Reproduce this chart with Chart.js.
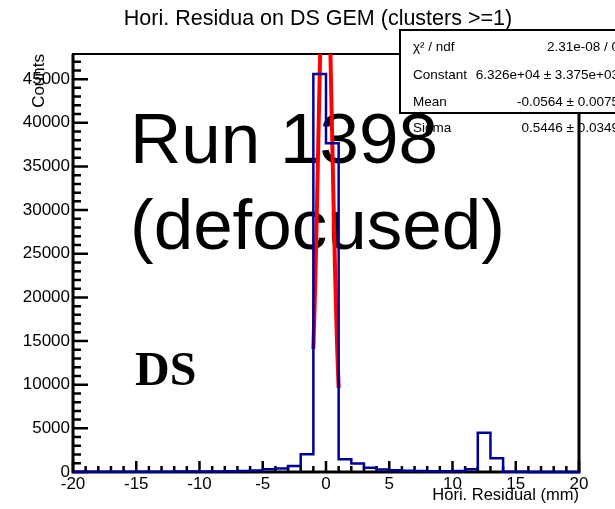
<!DOCTYPE html>
<html>
<head>
<meta charset="utf-8">
<script src="https://cdn.jsdelivr.net/npm/chart.js@4/dist/chart.umd.min.js"></script>
<style>
  html, body { margin: 0; padding: 0; background: #fff; }
  canvas { display: block; }
</style>
</head>
<body>
<canvas id="c" width="615" height="509"></canvas>
<script>
// histogram: 40 bins of 1 mm from -20 to 20
const X_MIN = -20, X_MAX = 20, BIN_WIDTH = 1;
const counts = [
  20, 20, 25, 25, 30, 30, 35, 40, 45, 50,
  60, 70, 90, 120, 170, 310, 390, 690, 2030, 45600,
  37650, 1450, 960, 500, 300, 200, 150, 120, 100, 100,
  110, 310, 4500, 1570, 40, 20, 10, 10, 10, 10
];

// gaussian fit curve
const fitX = [-1.0, -0.9, -0.8, -0.7, -0.6, -0.5, -0.4, -0.3, -0.2, -0.1, 0.0,
              0.1, 0.2, 0.3, 0.4, 0.5, 0.6, 0.7, 0.8, 0.9, 1.0];
const fitY = [14090, 19060, 24900, 31470, 38440, 45400, 51850, 57240, 61100, 63060, 62920,
              60700, 56630, 51070, 44520, 37540, 30600, 24120, 18370, 13530, 9640];

const xTicks = [-20, -15, -10, -5, 0, 5, 10, 15, 20];
const yTicks = [0, 5000, 10000, 15000, 20000, 25000, 30000, 35000, 40000, 45000];
const Y_MAX = 47880;

const titleText = 'Hori. Residua on DS GEM (clusters >=1)';
const statLabels = ['\u03c7\u00b2 / ndf', 'Constant', 'Mean', 'Sigma'];
const statValues = ['2.31e-08 / 0', '6.326e+04 \u00b1 3.375e+03', '-0.0564 \u00b1 0.0075', '0.5446 \u00b1 0.0349'];
const runLines = ['Run 1398', '(defocused)'];
const detLabel = 'DS';

const SANS = '"Liberation Sans", Arial, Helvetica, sans-serif';

const histPoints = counts.map((v, i) => ({ x: X_MIN + i * BIN_WIDTH, y: v }));
histPoints.push({ x: X_MAX, y: counts[counts.length - 1] });
const fitPoints = fitX.map((x, i) => ({ x: x, y: fitY[i] }));

// frame, inner ticks, stats box and text labels, ROOT style
const rootDecor = {
  id: 'rootDecor',
  beforeDatasetsDraw(chart) {
    const ctx = chart.ctx;
    const a = chart.chartArea;
    const xs = chart.scales.x, ys = chart.scales.y;
    ctx.save();

    // title
    ctx.fillStyle = '#000';
    ctx.font = '21.5px ' + SANS;
    ctx.textAlign = 'center';
    ctx.textBaseline = 'alphabetic';
    ctx.fillText(titleText, 318, 25);

    // frame
    ctx.strokeStyle = '#000';
    ctx.lineWidth = 2;
    ctx.strokeRect(a.left, a.top, a.right - a.left, a.bottom - a.top);
    ctx.lineWidth = 3;
    ctx.beginPath();
    ctx.moveTo(a.left, a.top);
    ctx.lineTo(a.left, a.bottom);
    ctx.lineTo(a.right, a.bottom);
    ctx.lineTo(a.right, a.top);
    ctx.stroke();

    // ticks inside the frame
    ctx.lineWidth = 2.5;
    ctx.beginPath();
    for (let v = X_MIN; v <= X_MAX; v += 1) {
      const px = xs.getPixelForValue(v);
      const len = (v % 5 === 0) ? 11 : 6;
      ctx.moveTo(px, a.bottom);
      ctx.lineTo(px, a.bottom - len);
    }
    for (let v = 0; v <= Y_MAX; v += 1000) {
      const py = ys.getPixelForValue(v);
      const len = (v % 5000 === 0) ? 15 : 8;
      ctx.moveTo(a.left, py);
      ctx.lineTo(a.left + len, py);
    }
    ctx.stroke();

    // stats box (the last row spills below it, as in the original)
    ctx.fillStyle = '#fff';
    ctx.fillRect(400, 30, 240, 83);
    ctx.strokeStyle = '#000';
    ctx.lineWidth = 2;
    ctx.strokeRect(400, 30, 240, 83);
    ctx.fillStyle = '#000';
    ctx.font = '13.5px ' + SANS;
    ctx.textBaseline = 'middle';
    const rowY = [47, 75, 102, 128];
    statLabels.forEach((t, i) => {
      ctx.textAlign = 'left';
      ctx.fillText(t, 413, rowY[i]);
      ctx.textAlign = 'right';
      ctx.fillText(statValues[i], 619, rowY[i]);
    });

    // run annotation
    ctx.textAlign = 'left';
    ctx.textBaseline = 'alphabetic';
    ctx.font = '71px ' + SANS;
    ctx.fillText(runLines[0], 130, 163);
    ctx.fillText(runLines[1], 130, 249);
    ctx.font = 'bold 48px "Liberation Serif", "DejaVu Serif", serif';
    ctx.fillText(detLabel, 135, 385);

    ctx.restore();
  }
};

new Chart(document.getElementById('c'), {
  type: 'line',
  data: {
    datasets: [
      {
        label: 'residual',
        data: histPoints,
        stepped: 'before',
        borderColor: '#000099',
        borderWidth: 2.5,
        pointRadius: 0,
        fill: false,
        clip: 2
      },
      {
        label: 'fit',
        data: fitPoints,
        borderColor: '#ff0000',
        borderWidth: 4,
        pointRadius: 0,
        tension: 0.3,
        fill: false,
        clip: 0
      }
    ]
  },
  options: {
    responsive: false,
    animation: false,
    layout: { padding: { top: 54, right: 36, left: 0, bottom: 0 } },
    plugins: { legend: { display: false }, tooltip: { enabled: false }, title: { display: false } },
    scales: {
      x: {
        type: 'linear',
        min: X_MIN,
        max: X_MAX,
        border: { display: false },
        grid: { display: false, drawTicks: false },
        afterBuildTicks: s => { s.ticks = xTicks.map(v => ({ value: v })); },
        afterFit: s => { s.height = 37; },
        ticks: {
          autoSkip: false,
          maxRotation: 0,
          padding: 2,
          color: '#000',
          font: { family: SANS, size: 17 },
          callback: v => String(v)
        },
        title: {
          display: true,
          text: 'Hori. Residual (mm)',
          align: 'end',
          color: '#000',
          font: { family: SANS, size: 16.5 },
          padding: { top: 0, bottom: 3.5 }
        }
      },
      y: {
        type: 'linear',
        min: 0,
        max: Y_MAX,
        border: { display: false },
        grid: { display: false, drawTicks: false },
        afterBuildTicks: s => { s.ticks = yTicks.map(v => ({ value: v })); },
        afterFit: s => { s.width = 73; },
        ticks: {
          padding: 3,
          color: '#000',
          font: { family: SANS, size: 17 },
          callback: v => String(v)
        },
        title: {
          display: true,
          text: 'Counts',
          align: 'end',
          color: '#000',
          font: { family: SANS, size: 17 },
          padding: { top: 29, bottom: 0 }
        }
      }
    }
  },
  plugins: [rootDecor]
});
</script>
</body>
</html>
